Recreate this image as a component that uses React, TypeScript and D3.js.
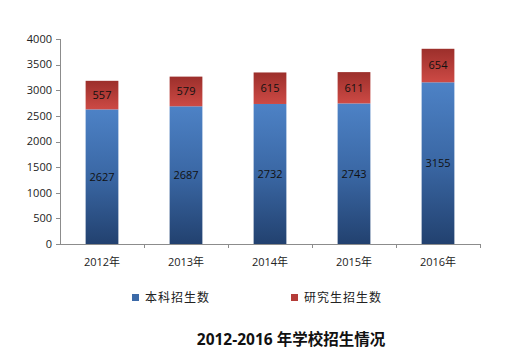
import * as d3 from "d3";

const years = ["2012年", "2013年", "2014年", "2015年", "2016年"];
const undergrad = [2627, 2687, 2732, 2743, 3155];
const postgrad = [557, 579, 615, 611, 654];
const yTicks = [0, 500, 1000, 1500, 2000, 2500, 3000, 3500, 4000];
const seriesNames = ["本科招生数", "研究生招生数"];
const title = "2012-2016 年学校招生情况";

const W = 514;
const H = 363;
const M = { left: 60, right: 34, top: 39, bottom: 119 };
const FONT = "'Open Sans', 'Noto Sans CJK SC', sans-serif";

export default function App() {
  const x = d3.scaleBand().domain(years).range([M.left, W - M.right]).paddingInner(0.61).paddingOuter(0.305);
  const y = d3.scaleLinear().domain([0, 4000]).range([H - M.bottom, M.top]);
  const step = x.step();
  const y0 = y(0);

  return (
    <svg width={W} height={H} style={{ position: "absolute", left: 0, top: 0, background: "#fff" }}>
      <defs>
        <linearGradient id="gBlue" x1="0" y1="0" x2="0" y2="1">
          <stop offset="0" stopColor="#4d82c6" />
          <stop offset="0.5" stopColor="#3a67a4" />
          <stop offset="1" stopColor="#22416f" />
        </linearGradient>
        <linearGradient id="gRed" x1="0" y1="0" x2="0" y2="1">
          <stop offset="0" stopColor="#9c2f2b" />
          <stop offset="1" stopColor="#cd4a45" />
        </linearGradient>
      </defs>

      {/* y axis */}
      <line x1={M.left + 0.5} x2={M.left + 0.5} y1={y(4000)} y2={y0} stroke="#8c8c8c" />
      {yTicks.map((t) => (
        <g key={t}>
          <line x1={M.left - 4} x2={M.left} y1={Math.round(y(t)) + 0.5} y2={Math.round(y(t)) + 0.5} stroke="#8c8c8c" />
          <text x={M.left - 8} y={y(t)} dy="0.35em" textAnchor="end" fontSize={11} fontFamily={FONT} fill="#222">
            {t}
          </text>
        </g>
      ))}

      {/* x axis */}
      <line x1={M.left} x2={M.left + step * years.length} y1={Math.round(y0) + 0.5} y2={Math.round(y0) + 0.5} stroke="#8c8c8c" />
      {years.map((yr, i) => (
        <line key={yr} x1={M.left + step * (i + 1) + 0.5} x2={M.left + step * (i + 1) + 0.5} y1={y0} y2={y0 + 4} stroke="#8c8c8c" />
      ))}

      {years.map((yr, i) => {
        const bx = x(yr)!;
        const bw = x.bandwidth();
        const uTop = y(undergrad[i]);
        const pTop = y(undergrad[i] + postgrad[i]);
        return (
          <g key={yr}>
            <rect x={bx} y={uTop} width={bw} height={y0 - uTop} fill="url(#gBlue)" />
            <rect x={bx} y={pTop} width={bw} height={uTop - pTop} fill="url(#gRed)" />
            <text x={bx + bw / 2} y={(uTop + y0) / 2} dy="0.35em" textAnchor="middle" fontSize={11} fontFamily={FONT} fill="#111">
              {undergrad[i]}
            </text>
            <text x={bx + bw / 2} y={(pTop + uTop) / 2} dy="0.35em" textAnchor="middle" fontSize={11} fontFamily={FONT} fill="#111">
              {postgrad[i]}
            </text>
            <text x={bx + bw / 2} y={y0 + 18} dy="0.35em" textAnchor="middle" fontSize={11} fontFamily={FONT} fill="#222">
              {yr}
            </text>
          </g>
        );
      })}

      {/* legend */}
      {seriesNames.map((name, i) => {
        const lx = [132, 291][i];
        return (
          <g key={name}>
            <rect x={lx} y={294} width={7} height={7} fill={i === 0 ? "#3c6aa8" : "#b43c38"} />
            <text x={lx + 13} y={298} dy="0.35em" fontSize={12} letterSpacing={1} fontFamily={FONT} fill="#222">
              {name}
            </text>
          </g>
        );
      })}

      <text x={291} y={340} dy="0.35em" textAnchor="middle" fontSize={15.5} fontWeight="bold" fontFamily={FONT} fill="#111">
        {title}
      </text>
    </svg>
  );
}
